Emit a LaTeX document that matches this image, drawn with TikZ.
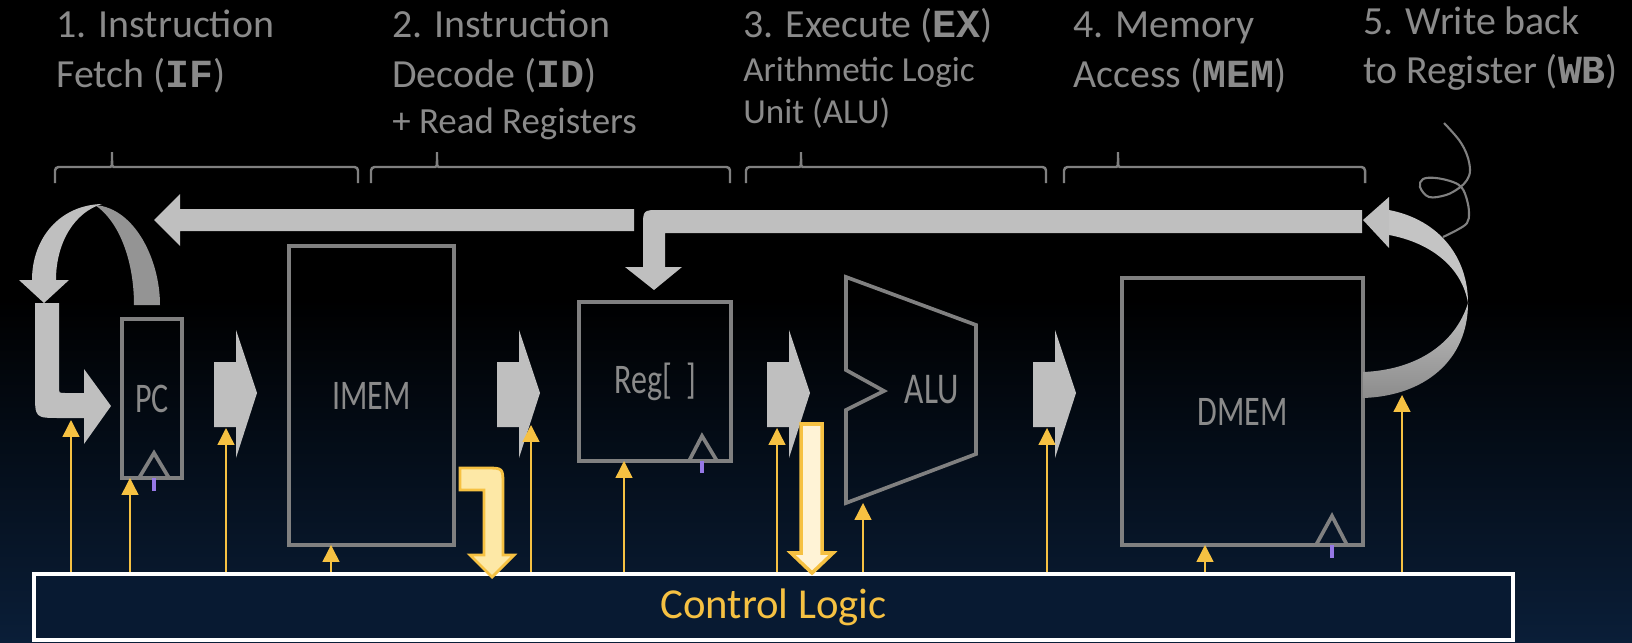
\documentclass[tikz,border=0pt]{standalone}
\usepackage{fontspec}
\setmainfont{Carlito}
\setmonofont{Liberation Mono}
\newfontfamily\boxfont[FakeStretch=0.76]{Carlito}
\usepackage{xcolor}
\definecolor{dpgray}{RGB}{138,138,138}
\definecolor{dpline}{RGB}{128,128,128}
\definecolor{dparrow}{RGB}{191,191,191}
\definecolor{dpdark}{RGB}{140,140,140}
\definecolor{dpyellow}{RGB}{246,193,66}
\definecolor{dpcream}{RGB}{253,232,166}
\definecolor{dppale}{RGB}{255,243,214}
\definecolor{dppurple}{RGB}{150,120,230}
\definecolor{dpnavy}{RGB}{8,26,50}
\definecolor{dpbg}{RGB}{10,30,56}
\usetikzlibrary{arrows.meta, calc}

\tikzset{
  stagetitle/.style={anchor=base west, inner sep=0pt, text=dpgray, font=\fontsize{22.7}{28}\selectfont},
  stagenote/.style={anchor=base west, inner sep=0pt, text=dpgray, font=\fontsize{20}{24}\selectfont},
  unitbox/.style={draw=dpline, line width=2.1pt, inner sep=0pt, outer sep=0pt, text=dpgray, font=\boxfont\fontsize{24}{26}\selectfont},
  stagebrace/.style={draw=dpline, line width=1.4pt, rounded corners=2pt},
  ctlwire/.style={dpyellow, line width=0.8pt, -{Triangle[width=9.6pt,length=9.6pt]}},
  clockmark/.style={draw=dpline, line width=2.1pt},
  clocktick/.style={draw=dppurple, line width=1.8pt},
  yellowarrow/.style={draw=dpyellow, line width=1.6pt},
}

\begin{document}
\begin{tikzpicture}[x=0.02cm, y=-0.02cm]
\useasboundingbox (0,0) rectangle (1632,642);

% === Background ===
\fill[black] (0,0) rectangle (1632,300);
\shade[top color=black, bottom color=dpbg] (0,299) rectangle (1632,642);

% === Stage titles ===
\node[stagetitle] (t1a) at (56,38) {1. Instruction};
\node[stagetitle] (t1b) at (56,88) {Fetch (\texttt{\bfseries IF})};
\node[stagetitle] (t2a) at (392,38) {2. Instruction};
\node[stagetitle] (t2b) at (392,88) {Decode (\texttt{\bfseries ID})};
\node[stagenote, font=\fontsize{21}{24}\selectfont] (t2c) at (392,133) {+ Read Registers};
\node[stagetitle] (t3a) at (743,38) {3. Execute (\texttt{\bfseries EX})};
\node[stagenote] (t3b) at (743,82) {Arithmetic Logic};
\node[stagenote] (t3c) at (743,124) {Unit (ALU)};
\node[stagetitle] (t4a) at (1073,38) {4. Memory};
\node[stagetitle] (t4b) at (1073,88) {Access (\texttt{\bfseries MEM})};
\node[stagetitle] (t5a) at (1363,35) {5. Write back};
\node[stagetitle] (t5b) at (1363,84) {to Register (\texttt{\bfseries WB})};

% braces under the titles
\draw[stagebrace] (55,183) |- (107,167) .. controls (112,167) .. (112,150) .. controls (112,167) .. (117,167) -| (358,183);
\draw[stagebrace] (371,183) |- (432,167) .. controls (437,167) .. (437,150) .. controls (437,167) .. (442,167) -| (730,183);
\draw[stagebrace] (746,183) |- (796,167) .. controls (801,167) .. (801,150) .. controls (801,167) .. (806,167) -| (1046,183);
\draw[stagebrace] (1064,183) |- (1113,167) .. controls (1118,167) .. (1118,150) .. controls (1118,167) .. (1123,167) -| (1365,183);

% scribble above the write back arrow
\draw[dpline, line width=1.2pt] plot[smooth, tension=0.6] coordinates {(1444,123) (1459,140) (1467,155) (1470,170) (1467,180) (1459,188) (1446,195) (1429,197) (1420,187) (1423,179) (1436,178) (1453,182) (1462,188) (1467,200) (1469,213) (1467,223) (1457,230) (1443,237)};

% === Datapath blocks ===
\node[unitbox, minimum width=1.2cm, minimum height=3.18cm] (pc) at (152,398.5) {PC};
\node[unitbox, minimum width=3.3cm, minimum height=5.98cm] (imem) at (371.5,395.5) {IMEM};
\node[unitbox, minimum width=3.04cm, minimum height=3.18cm] (reg) at (655,381.5) {Reg[\,\,]};
\node[unitbox, minimum width=4.82cm, minimum height=5.34cm] (dmem) at (1242.5,411.5) {DMEM};

% ALU outline
\draw[dpline, line width=2.1pt] (846,277) -- (976,325) -- (976,454) -- (846,503) -- (846,410) -- (884,391) -- (846,370) -- cycle;
\node[text=dpgray, font=\boxfont\fontsize{25}{28}\selectfont, inner sep=0pt] (alu) at (932,390) {ALU};
\coordinate (alubot) at (863,503);

% clock inputs
\draw[clockmark] (139,478) -- (154,453) -- (169,478);
\draw[clockmark] (689,461) -- (702,436) -- (717,461);
\draw[clockmark] (1316,545) -- (1332,516) -- (1347,545);
\draw[clocktick] (pc.south -| 154,0) -- ++(0,13);
\draw[clocktick] (reg.south -| 702,0) -- ++(0,12);
\draw[clocktick] (dmem.south -| 1332,0) -- ++(0,13);

% === Stage-to-stage arrows ===
\fill[dparrow] (214,362) -- ++(22,0) -- ++(0,-32) -- ++(21,63) -- ++(-21,65) -- ++(0,-31) -- ++(-22,0) -- cycle;
\fill[dparrow] (497,362) -- ++(22,0) -- ++(0,-32) -- ++(21,63) -- ++(-21,65) -- ++(0,-31) -- ++(-22,0) -- cycle;
\fill[dparrow] (767,362) -- ++(22,0) -- ++(0,-32) -- ++(21,63) -- ++(-21,65) -- ++(0,-31) -- ++(-22,0) -- cycle;
\fill[dparrow] (1033,362) -- ++(22,0) -- ++(0,-32) -- ++(21,63) -- ++(-21,65) -- ++(0,-31) -- ++(-22,0) -- cycle;

% next PC back to the fetch stage
\fill[dparrow] (154,220) -- (180,194) -- (180,209) -- (634,209) -- (634,231) -- (180,231) -- (180,246) -- cycle;

% write back into the registers
\fill[dparrow] (1362,210) -- (660,210) .. controls (643,210) .. (643,227) -- (643,267) -- (625,267) -- (654,290) -- (682,267) -- (665,267) -- (665,233) -- (1362,233) -- cycle;

% loop from DMEM up to the write back bus
\shade[top color=dparrow, bottom color=dpdark] (1468,303) .. controls (1468,360) and (1425,396) .. (1363,398) -- (1363,372) .. controls (1415,370) and (1455,345) .. (1468,303) -- cycle;
\fill[dparrow!92!white] (1389,210) .. controls (1440,220) and (1468,258) .. (1468,303) .. controls (1462,268) and (1432,243) .. (1389,235) -- cycle;
\fill[dparrow] (1363,220) -- (1389,197) -- (1389,248) -- cycle;

% PC + 4 loop
\fill[dpdark!85!dparrow] (95,205) .. controls (135,208) and (160,260) .. (160,305) -- (134,305) .. controls (134,262) and (120,222) .. (95,205) -- cycle;
\fill[dparrow] (32,280) .. controls (32,238) and (60,205) .. (102,204) .. controls (75,212) and (56,242) .. (56,280) -- cycle;
\fill[dparrow] (19,280) -- (69,280) -- (44,303) -- cycle;
\fill[dparrow] (35,303) -- (35,393) .. controls (35,418) .. (60,418) -- (84,418) -- (84,444) -- (111,406) -- (84,369) -- (84,393) -- (65,393) .. controls (59,393) .. (59,387) -- (59,303) -- cycle;

% === Control Logic ===
\node[draw=white, line width=1.9pt, fill=dpnavy, minimum width=29.58cm, minimum height=1.32cm,
      inner sep=0pt, text=dpyellow, font=\fontsize{24.3}{28}\selectfont] (ctrl) at (773.5,607) {Control Logic};

% outputs going down into the control block
\filldraw[yellowarrow, fill=dpcream] (460,468) -- (486,468) .. controls (503,468) .. (503,485) -- (503,555) -- (514,555) -- (492,577) -- (470,555) -- (484,555) -- (484,490) -- (460,490) -- cycle;
\filldraw[yellowarrow, fill=dppale, line width=2pt] (801,424) -- (822,424) -- (822,553) -- (833,553) -- (812,573) -- (791,553) -- (801,553) -- cycle;

% control signals
\coordinate (w1) at (71,420);
\coordinate (w3) at (226,428);
\coordinate (w5) at (531,425);
\coordinate (w7) at (777,428);
\coordinate (w9) at (1047,428);
\coordinate (w11) at (1402,395);
\draw[ctlwire] (ctrl.north -| w1) -- (w1);
\draw[ctlwire] (ctrl.north -| 130,0) -- (pc.south -| 130,0);
\draw[ctlwire] (ctrl.north -| w3) -- (w3);
\draw[ctlwire] (ctrl.north -| 331,0) -- (imem.south -| 331,0);
\draw[ctlwire] (ctrl.north -| w5) -- (w5);
\draw[ctlwire] (ctrl.north -| 624,0) -- (reg.south -| 624,0);
\draw[ctlwire] (ctrl.north -| w7) -- (w7);
\draw[ctlwire] (ctrl.north -| alubot) -- (alubot);
\draw[ctlwire] (ctrl.north -| w9) -- (w9);
\draw[ctlwire] (ctrl.north -| 1205,0) -- (dmem.south -| 1205,0);
\draw[ctlwire] (ctrl.north -| w11) -- (w11);

\end{tikzpicture}
\end{document}
